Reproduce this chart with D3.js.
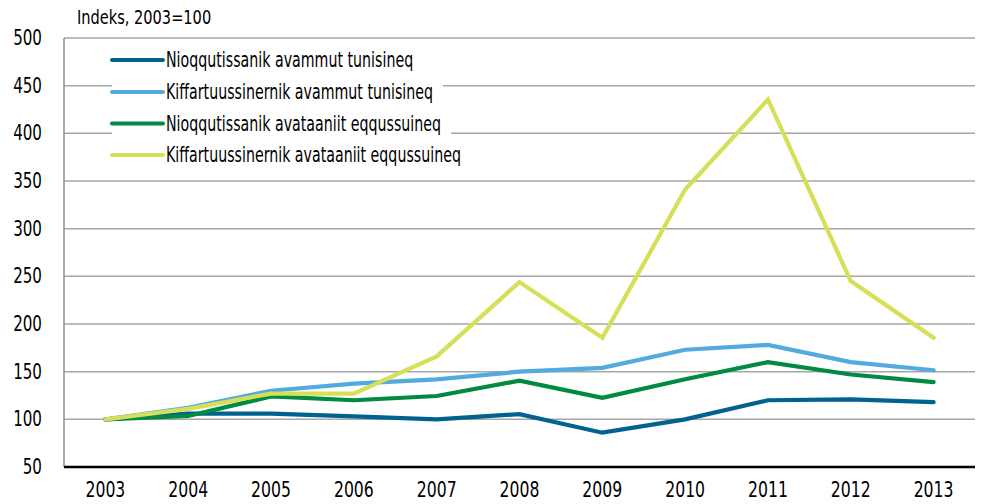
<!DOCTYPE html>
<html>
<head>
<meta charset="utf-8">
<script src="https://cdn.jsdelivr.net/npm/d3@7"></script>
<style>
  body { margin: 0; background: #fff; }
  text { font-family: "DejaVu Sans Condensed", "Liberation Sans Narrow", sans-serif; fill: #000; }
</style>
</head>
<body>
<svg width="983" height="504"></svg>
<script>
// data
const years = ["2003","2004","2005","2006","2007","2008","2009","2010","2011","2012","2013"];
const seriesNames = [
  "Nioqqutissanik avammut tunisineq",
  "Kiffartuussinernik avammut tunisineq",
  "Nioqqutissanik avataaniit eqqussuineq",
  "Kiffartuussinernik avataaniit eqqussuineq"
];
const colors = ["#00628f", "#52aadf", "#008a42", "#d5df57"];
const nioqAvammut = [100, 106, 106, 103, 100, 105.5, 86, 100, 120, 121, 118];
const kiffAvammut = [100, 112, 130, 137.5, 142, 150, 154, 173, 178, 160, 151.5];
const nioqEqqus   = [100, 103.5, 124, 120, 124.5, 140.5, 122.5, 142, 160, 147, 139];
const kiffEqqus   = [100, 111, 127, 127, 166, 244, 185.5, 341, 435.5, 245, 185.5];
const yTicks = [50, 100, 150, 200, 250, 300, 350, 400, 450, 500];

const allSeries = [nioqAvammut, kiffAvammut, nioqEqqus, kiffEqqus];

const svg = d3.select("svg");
const plotL = 64, plotR = 975, plotT = 38, plotB = 467;

// squeeze text to look like the narrow font in the original
function narrow(sel, f) {
  sel.each(function () {
    const w = this.getComputedTextLength();
    d3.select(this).attr("textLength", w * f).attr("lengthAdjust", "spacingAndGlyphs");
  });
}

const x = d3.scalePoint().domain(years).range([plotL, plotR]).padding(0.5);
const y = d3.scaleLinear().domain([50, 500]).range([plotB, plotT]);

// gridlines
svg.append("g")
  .selectAll("line")
  .data(yTicks.filter(d => d > 50))
  .join("line")
  .attr("x1", plotL).attr("x2", plotR)
  .attr("y1", d => y(d)).attr("y2", d => y(d))
  .attr("stroke", "#a6a6a6")
  .attr("stroke-width", 1.5);

// y axis line
svg.append("line")
  .attr("x1", plotL).attr("x2", plotL)
  .attr("y1", plotT).attr("y2", plotB)
  .attr("stroke", "#8c8c8c").attr("stroke-width", 1.5);

// y tick labels
svg.append("g")
  .selectAll("text")
  .data(yTicks)
  .join("text")
  .attr("x", 42)
  .attr("y", d => y(d) + 1)
  .attr("text-anchor", "end")
  .attr("dominant-baseline", "middle")
  .style("font-size", "21px")
  .text(d => d)
  .call(narrow, 0.8);

// x axis
svg.append("line")
  .attr("x1", plotL).attr("x2", plotR)
  .attr("y1", plotB).attr("y2", plotB)
  .attr("stroke", "#000").attr("stroke-width", 2.5);

svg.append("g")
  .selectAll("text")
  .data(years)
  .join("text")
  .attr("x", d => x(d))
  .attr("y", 497)
  .attr("text-anchor", "middle")
  .style("font-size", "20.5px")
  .text(d => d)
  .call(narrow, 0.85);

// unit label
svg.append("text")
  .attr("x", 77).attr("y", 24)
  .style("font-size", "20px")
  .text("Indeks, 2003=100")
  .call(narrow, 0.81);

// legend (white background hides gridlines behind it)
const legend = svg.append("g");
const legRows = [60, 92, 123.5, 155];
seriesNames.forEach((name, i) => {
  const g = legend.append("g");
  const t = g.append("text")
    .attr("x", 166).attr("y", legRows[i] + 1)
    .attr("dominant-baseline", "middle")
    .style("font-size", "20.5px")
    .text(name)
    .call(narrow, 0.77);
  const w = +t.attr("textLength");
  g.insert("rect", "text")
    .attr("x", 112).attr("y", legRows[i] - 13)
    .attr("width", w + 64).attr("height", 26)
    .attr("fill", "#fff");
  g.append("line")
    .attr("x1", 112).attr("x2", 163)
    .attr("y1", legRows[i]).attr("y2", legRows[i])
    .attr("stroke", colors[i]).attr("stroke-width", 4)
    .attr("stroke-linecap", "round");
});

// lines
const line = d3.line()
  .x((d, i) => x(years[i]))
  .y(d => y(d));

svg.append("g")
  .selectAll("path")
  .data(allSeries)
  .join("path")
  .attr("d", line)
  .attr("fill", "none")
  .attr("stroke", (d, i) => colors[i])
  .attr("stroke-width", 4.2)
  .attr("stroke-linejoin", "miter")
  .attr("stroke-linecap", "round");
</script>
</body>
</html>
